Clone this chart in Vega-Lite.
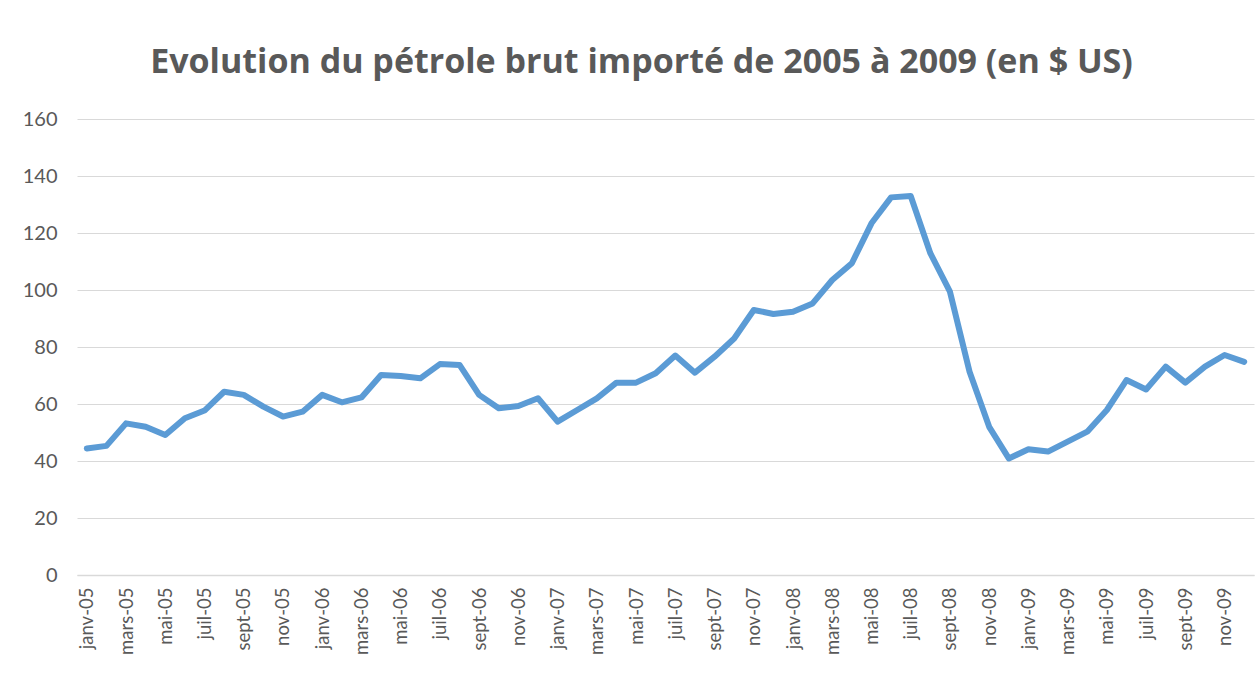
{
  "$schema": "https://vega.github.io/schema/vega-lite/v6.json",
  "autosize": {"type": "none"},
  "width": 1177,
  "height": 456,
  "padding": {"left": 77, "top": 119, "right": 5, "bottom": 104},
  "background": "white",
  "title": {
    "text": "Evolution du pétrole brut importé de 2005 à 2009 (en $ US)",
    "font": "Open Sans",
    "fontSize": 34,
    "fontWeight": "bold",
    "color": "#595959",
    "anchor": "middle",
    "baseline": "alphabetic",
    "offset": 39,
    "dx": -24,
    "dy": 37
  },
  "data": {
    "values": [
      {"mois": "janv-05", "prix": 44.4}, {"mois": "févr-05", "prix": 45.3}, {"mois": "mars-05", "prix": 53.2}, {"mois": "avr-05", "prix": 52.0},
      {"mois": "mai-05", "prix": 49.1}, {"mois": "juin-05", "prix": 55.0}, {"mois": "juil-05", "prix": 57.7}, {"mois": "août-05", "prix": 64.3},
      {"mois": "sept-05", "prix": 63.2}, {"mois": "oct-05", "prix": 59.1}, {"mois": "nov-05", "prix": 55.6}, {"mois": "déc-05", "prix": 57.3},
      {"mois": "janv-06", "prix": 63.2}, {"mois": "févr-06", "prix": 60.6}, {"mois": "mars-06", "prix": 62.3}, {"mois": "avr-06", "prix": 70.2},
      {"mois": "mai-06", "prix": 69.8}, {"mois": "juin-06", "prix": 69.0}, {"mois": "juil-06", "prix": 74.0}, {"mois": "août-06", "prix": 73.7},
      {"mois": "sept-06", "prix": 63.2}, {"mois": "oct-06", "prix": 58.5}, {"mois": "nov-06", "prix": 59.3}, {"mois": "déc-06", "prix": 62.0},
      {"mois": "janv-07", "prix": 53.8}, {"mois": "févr-07", "prix": 57.9}, {"mois": "mars-07", "prix": 62.0}, {"mois": "avr-07", "prix": 67.5},
      {"mois": "mai-07", "prix": 67.5}, {"mois": "juin-07", "prix": 70.8}, {"mois": "juil-07", "prix": 77.0}, {"mois": "août-07", "prix": 71.0},
      {"mois": "sept-07", "prix": 76.6}, {"mois": "oct-07", "prix": 83.0}, {"mois": "nov-07", "prix": 93.0}, {"mois": "déc-07", "prix": 91.6},
      {"mois": "janv-08", "prix": 92.4}, {"mois": "févr-08", "prix": 95.3}, {"mois": "mars-08", "prix": 103.5}, {"mois": "avr-08", "prix": 109.4},
      {"mois": "mai-08", "prix": 123.4}, {"mois": "juin-08", "prix": 132.5}, {"mois": "juil-08", "prix": 133.0}, {"mois": "août-08", "prix": 112.9},
      {"mois": "sept-08", "prix": 99.4}, {"mois": "oct-08", "prix": 71.3}, {"mois": "nov-08", "prix": 52.0}, {"mois": "déc-08", "prix": 40.9},
      {"mois": "janv-09", "prix": 44.1}, {"mois": "févr-09", "prix": 43.3}, {"mois": "mars-09", "prix": 46.8}, {"mois": "avr-09", "prix": 50.3},
      {"mois": "mai-09", "prix": 57.9}, {"mois": "juin-09", "prix": 68.4}, {"mois": "juil-09", "prix": 65.1}, {"mois": "août-09", "prix": 73.1},
      {"mois": "sept-09", "prix": 67.5}, {"mois": "oct-09", "prix": 73.1}, {"mois": "nov-09", "prix": 77.2}, {"mois": "déc-09", "prix": 74.8}
    ]
  },
  "mark": {"type": "line", "color": "#5b9bd5", "strokeWidth": 6, "strokeJoin": "round", "strokeCap": "round"},
  "encoding": {
    "x": {
      "field": "mois",
      "type": "ordinal",
      "sort": null,
      "scale": {"type": "point", "padding": 0.5},
      "axis": {
        "title": null,
        "values": ["janv-05", "mars-05", "mai-05", "juil-05", "sept-05", "nov-05", "janv-06", "mars-06", "mai-06", "juil-06", "sept-06", "nov-06", "janv-07", "mars-07", "mai-07", "juil-07", "sept-07", "nov-07", "janv-08", "mars-08", "mai-08", "juil-08", "sept-08", "nov-08", "janv-09", "mars-09", "mai-09", "juil-09", "sept-09", "nov-09"],
        "labelAngle": -90,
        "labelAlign": "right",
        "labelBaseline": "middle",
        "labelFont": "Lato",
        "labelFontSize": 18.5,
        "labelColor": "#595959",
        "labelPadding": 12,
        "ticks": false,
        "domain": true,
        "domainColor": "#d9d9d9",
        "domainWidth": 1.5,
        "grid": false
      }
    },
    "y": {
      "field": "prix",
      "type": "quantitative",
      "scale": {"domain": [0, 160], "nice": false, "zero": true},
      "axis": {
        "title": null,
        "values": [0, 20, 40, 60, 80, 100, 120, 140, 160],
        "labelFont": "Lato",
        "labelFontSize": 20,
        "labelColor": "#595959",
        "labelPadding": 20,
        "ticks": false,
        "domain": false,
        "grid": true,
        "gridColor": "#d9d9d9",
        "gridWidth": 1
      }
    }
  },
  "config": {"view": {"stroke": null}}
}
